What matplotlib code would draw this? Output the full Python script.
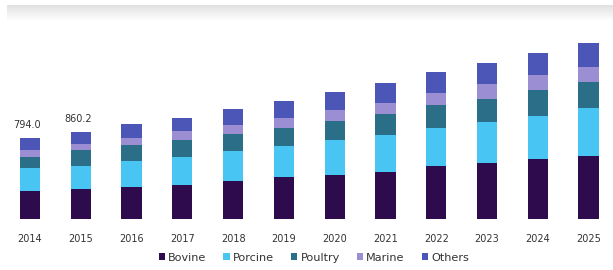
import matplotlib
matplotlib.use("Agg")
import matplotlib.pyplot as plt
import numpy as np

years = ['2014', '2015', '2016', '2017', '2018', '2019', '2020', '2021', '2022', '2023', '2024', '2025']
bovine = [275, 297, 315, 335, 374, 414, 433, 463, 522, 552, 591, 621]
porcine = [226, 228, 256, 276, 296, 305, 345, 364, 374, 404, 424, 473]
poultry = [107, 158, 158, 167, 167, 177, 187, 207, 227, 227, 256, 256]
marine = [68, 60, 69, 89, 89, 99, 108, 108, 118, 148, 148, 148]
others = [118, 117.2, 138, 128, 158, 167, 177, 197, 207, 207, 217, 236]
labels = ['794.0', '860.2']

series = [('Bovine', bovine, '#2e0b4d'),
          ('Porcine', porcine, '#48c5f3'),
          ('Poultry', poultry, '#2a6e88'),
          ('Marine', marine, '#9c8ed3'),
          ('Others', others, '#4c56b6')]

fig = plt.figure(figsize=(6.13, 2.7), dpi=100)

# gray band at the top
band = fig.add_axes([7 / 613, 1 - 21 / 270, 1 - 7 / 613, 16 / 270])
grad = np.linspace(0.88, 1.0, 50).reshape(-1, 1)
band.imshow(grad, aspect='auto', cmap='gray', vmin=0, vmax=1)
band.axis('off')

ax = fig.add_axes([0, 51 / 270, 1, 189 / 270])
x = np.arange(len(years))
bottom = np.zeros(len(years))
for name, vals, col in series:
    ax.bar(x, vals, 0.4, bottom=bottom, color=col, label=name)
    bottom += np.array(vals)

for i, t in enumerate(labels):
    ax.text(x[i] - 0.05, bottom[i] + 80, t, ha='center', va='bottom',
            fontsize=7, color='#333333')

ax.set_xlim(-0.59, 11.48)
ax.set_ylim(0, 1862)
ax.set_xticks(x)
ax.set_xticklabels(years, fontsize=7, color='#333333')
ax.tick_params(length=0, pad=11)
ax.set_yticks([])
for s in ax.spines.values():
    s.set_visible(False)

leg = ax.legend(loc='upper center', bbox_to_anchor=(0.512, -0.125), ncol=5,
                frameon=False, fontsize=8.1, handlelength=0.55, handleheight=0.55,
                handletextpad=0.3, columnspacing=1.5)
for t in leg.get_texts():
    t.set_color('#333333')

fig.savefig('out.png', dpi=100)
